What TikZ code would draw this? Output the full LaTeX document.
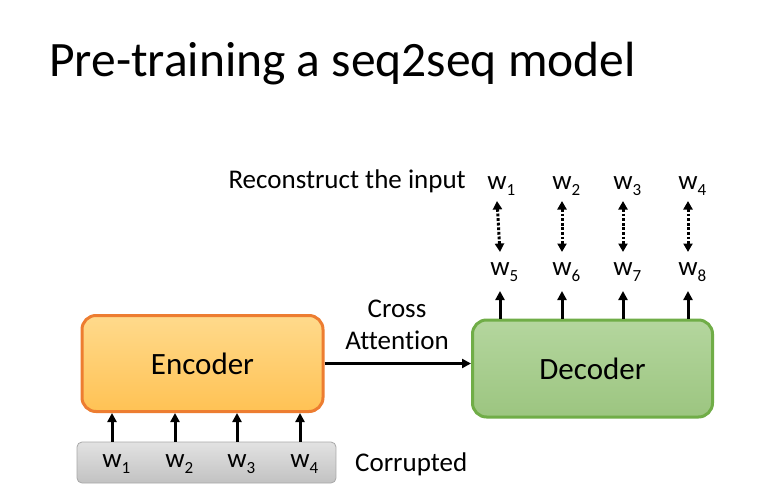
\documentclass[tikz,border=0pt]{standalone}
\usepackage{fontspec}
\setmainfont{Carlito}[Ligatures=NoCommon]
\usetikzlibrary{arrows.meta,calc}
\newcommand\wsub[1]{w\rlap{\raisebox{-0.24em}{\fontsize{17}{17}\selectfont #1}}}
\definecolor{encborder}{HTML}{ED7D31}
\definecolor{enctop}{HTML}{FFDA8C}
\definecolor{encbot}{HTML}{FFC254}
\definecolor{decborder}{HTML}{70AD47}
\definecolor{dectop}{HTML}{B4D69E}
\definecolor{decbot}{HTML}{9CC580}
\definecolor{graytop}{HTML}{E2E2E2}
\definecolor{graybot}{HTML}{C2C2C2}
\definecolor{grayborder}{HTML}{A8A8A8}
\tikzset{
  txt/.style={inner sep=0pt, anchor=base, font=\fontsize{27}{32}\selectfont},
  wtok/.style={inner sep=0pt, anchor=base, font=\fontsize{27}{30}\selectfont},
  arr/.style={line width=3pt, -{Triangle[length=9pt,width=9pt]}},
  dotarr/.style={line width=3pt, dash pattern=on 2.8pt off 1.8pt,
     {Triangle[length=8.5pt,width=9pt]}-{Triangle[length=8.5pt,width=9pt]}},
  encbox/.style={draw=encborder, line width=3pt, rounded corners=14pt,
     top color=enctop, bottom color=encbot, minimum width=241pt, minimum height=96pt,
     font=\fontsize{31}{36}\selectfont},
  decbox/.style={draw=decborder, line width=3pt, rounded corners=14pt,
     top color=dectop, bottom color=decbot, minimum width=240pt, minimum height=97pt,
     font=\fontsize{31}{36}\selectfont},
  graybox/.style={draw=grayborder, line width=0.8pt, rounded corners=5pt,
     top color=graytop, bottom color=graybot, minimum width=259pt, minimum height=41pt},
}
\begin{document}
\begin{tikzpicture}[x=1pt,y=-1pt]
\useasboundingbox (0,0) rectangle (769,495);
\fill[white] (0,0) rectangle (769,495);
% title
\node[inner sep=0pt, anchor=base west, font=\fontsize{49.5}{56}\selectfont] (title) at (49,77) {Pre-training a seq2seq model};
% boxes
\node[encbox] (enc) at (202.5,363.5) {Encoder};
\node[decbox] (dec) at (592.5,368.5) {Decoder};
\node[graybox] (gray) at (206.5,462.5) {};
% input tokens
\node[wtok] (i1) at (112,467) {\wsub{1}};
\node[wtok] (i2) at (175,467) {\wsub{2}};
\node[wtok] (i3) at (237,467) {\wsub{3}};
\node[wtok] (i4) at (300,467) {\wsub{4}};
\node[txt, anchor=base west] (corr) at (355,471) {Corrupted};
\foreach \i in {1,2,3,4}{
  \draw[arr] (gray.north -| i\i) -- (enc.south -| i\i);
}
% cross attention
\draw[arr] (enc.east) -- (dec.west |- enc.east);
\node[txt, anchor=base] (ca1) at (397,317) {Cross};
\node[txt, anchor=base] (ca2) at (397,349) {Attention};
% decoder outputs
\node[wtok] (o5) at (500,275) {\wsub{5}};
\node[wtok] (o6) at (562,275) {\wsub{6}};
\node[wtok] (o7) at (623,275) {\wsub{7}};
\node[wtok] (o8) at (688,275) {\wsub{8}};
\node[wtok] (t1) at (497,189) {\wsub{1}};
\node[wtok] (t2) at (562,189) {\wsub{2}};
\node[wtok] (t3) at (623,189) {\wsub{3}};
\node[wtok] (t4) at (688,189) {\wsub{4}};
\node[txt, anchor=base east] (rec) at (466,188) {Reconstruct the input};
\foreach \i/\j in {5/1,6/2,7/3,8/4}{
  \draw[arr] (dec.north -| o\i) -- ($(o\i.base)+(0,16)$);
  \draw[dotarr] ($(t\j.base)+(0,12)$ -| o\i) -- ($(o\i.base)+(0,-23)$);
}
\end{tikzpicture}
\end{document}
